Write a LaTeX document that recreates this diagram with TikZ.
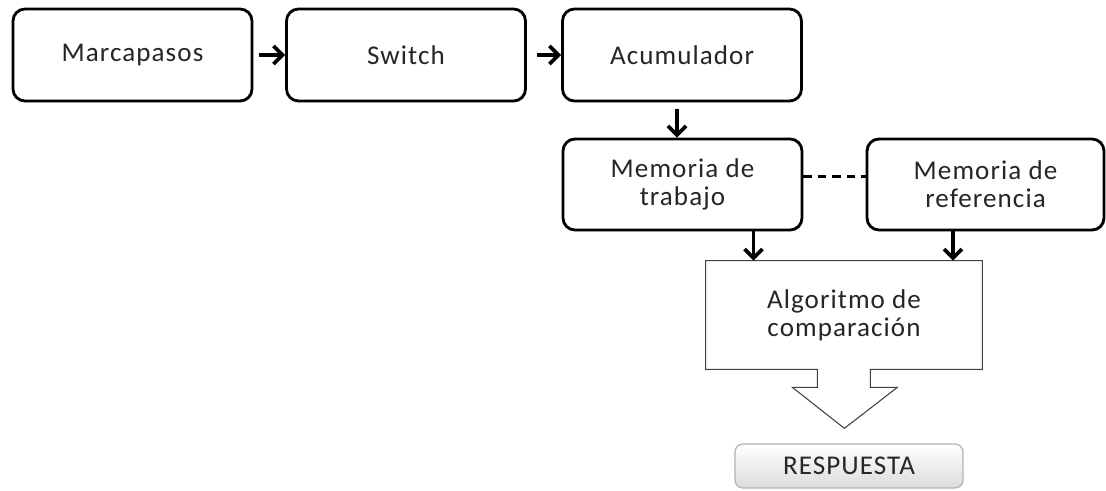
\documentclass[tikz,border=0pt]{standalone}
\usepackage{fontspec}
\setmainfont{Carlito}[LetterSpace=4]
\usetikzlibrary{arrows.meta,positioning,calc,shadows,backgrounds}

\begin{document}
\begin{tikzpicture}[
    font=\fontsize{15.4pt}{16pt}\selectfont,
    procbox/.style={draw=black, rounded corners=0.24cm, fill=white, line width=1.6pt,
      minimum width=4.78cm, minimum height=1.84cm, align=center, text=black!85,
      drop shadow={opacity=0.25, shadow xshift=0.6pt, shadow yshift=-0.8pt}},
    flecha/.style={line width=2.1pt, -{Straight Barb[length=1.8mm,width=3.6mm,line width=2.1pt]}},
    enlace/.style={line width=1.9pt, dash pattern=on 0.17cm off 0.12cm},
    callout/.style={draw=black!75, line width=0.6pt, fill=white},
    salida/.style={draw=gray!60, rounded corners=0.16cm, top color=white, bottom color=gray!28,
      line width=0.7pt, minimum width=4.56cm, minimum height=0.88cm, text=black!85}
]
  \useasboundingbox (0,0) rectangle (22.12,-9.82);

  % -------------------------------------------------------------
  % FILA SUPERIOR
  % -------------------------------------------------------------
  \node[procbox] (marca) at (2.65, -1.10) {Marcapasos};
  \node[procbox] (switch) at (8.12, -1.10) {Switch};
  \node[procbox] (acum) at (13.64, -1.10) {Acumulador};

  \draw[flecha, shorten <=0.12cm] (marca.east) -- (switch.west);
  \draw[flecha, shorten <=0.2cm] (switch.east) -- (acum.west);

  % -------------------------------------------------------------
  % MEMORIAS
  % -------------------------------------------------------------
  \node[procbox, minimum height=1.82cm] (memtrab) at (13.65, -3.69) {Memoria de\\trabajo};
  \node[procbox, minimum height=1.82cm, minimum width=4.74cm] (memref) at (19.71, -3.69) {Memoria de\\referencia};

  \draw[flecha, shorten <=0.14cm] ([xshift=-0.1cm]acum.south) -- ([xshift=-0.1cm]acum.south |- memtrab.north);
  \draw[enlace] ([yshift=0.16cm]memtrab.east) -- ([yshift=0.16cm]memtrab.east -| memref.west);

  % -------------------------------------------------------------
  % ALGORITMO DE COMPARACION
  % -------------------------------------------------------------
  \node[minimum width=5.52cm, minimum height=2.16cm, align=center, text=black!85] (algo) at (16.88, -6.30) {Algoritmo de\\comparación};
  \begin{scope}[on background layer]
    \path[callout] (algo.north west) -- (algo.north east) -- (algo.south east)
      -- ++(-2.24,0) -- ++(0,-0.36) -- ++(0.54,0) -- ++(-1.06,-0.82)
      -- ++(-1.04,0.82) -- ++(0.50,0) -- ++(0,0.36) -- (algo.south west) -- cycle;
  \end{scope}

  \draw[flecha] ([xshift=1.42cm]memtrab.south) -- ([xshift=1.42cm]memtrab.south |- algo.north);
  \draw[flecha] ([xshift=-0.65cm]memref.south) -- ([xshift=-0.65cm]memref.south |- algo.north);

  % -------------------------------------------------------------
  % RESPUESTA
  % -------------------------------------------------------------
  \node[salida] (resp) at (16.98, -9.32) {RESPUESTA};

\end{tikzpicture}
\end{document}
